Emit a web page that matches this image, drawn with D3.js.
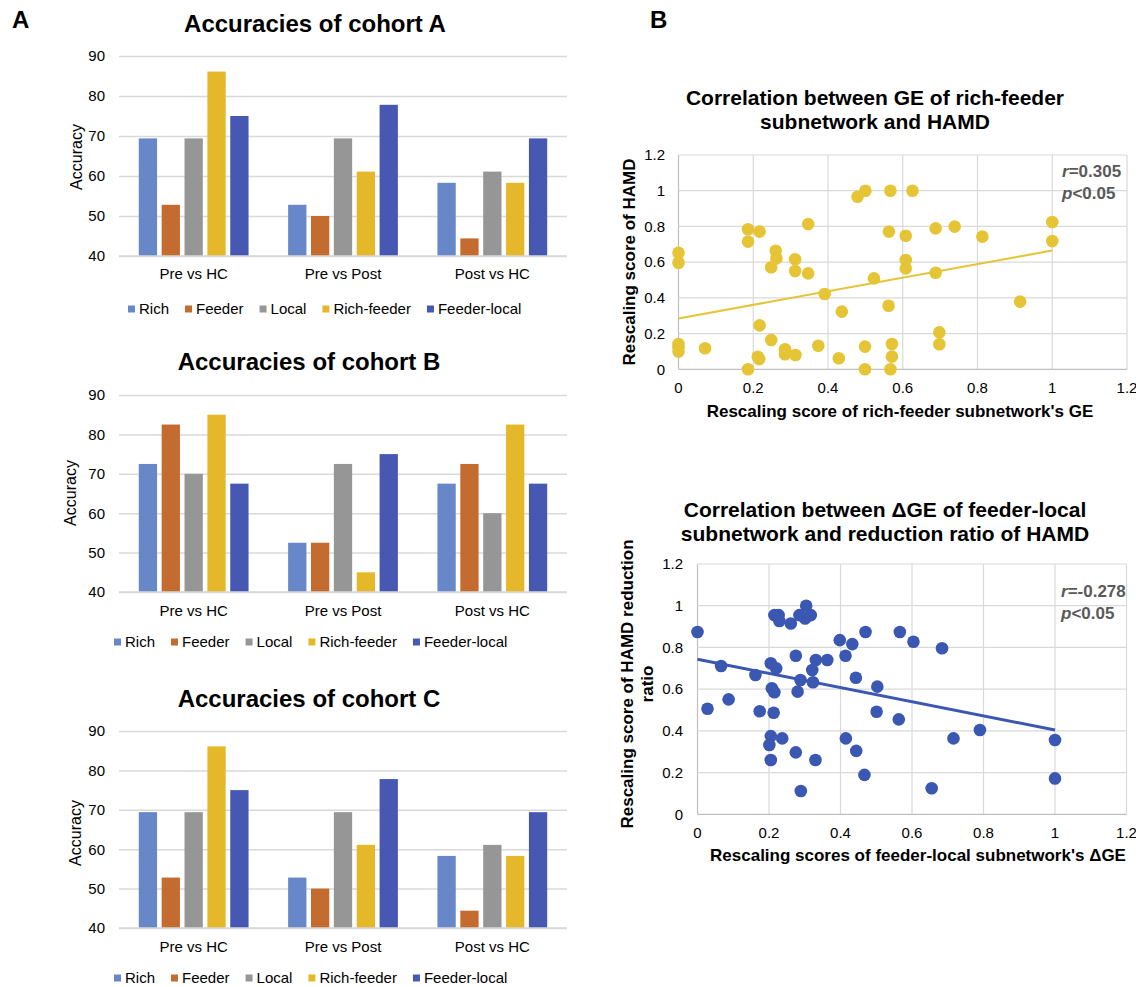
<!DOCTYPE html>
<html>
<head>
<meta charset="utf-8">
<script src="https://cdn.jsdelivr.net/npm/d3@7"></script>
<style>
  body { margin: 0; background: #fff; }
  svg { display: block; font-family: "Liberation Sans", Arial, sans-serif; }
</style>
</head>
<body>
<svg id="fig" width="1136" height="987"></svg>
<script>
// ---- data ----
const comparisons = ['Pre vs HC', 'Pre vs Post', 'Post vs HC'];
const subnetworks = ['Rich', 'Feeder', 'Local', 'Rich-feeder', 'Feeder-local'];
const subColors = ['#6887c8', '#c46c30', '#969696', '#e4b829', '#4758b3'];
const accTicks = [40, 50, 60, 70, 80, 90];

// rows = comparisons, columns = subnetworks
const cohortA = [
  [69.4, 52.8, 69.4, 86.1, 75.0],
  [52.8, 50.0, 69.4, 61.1, 77.8],
  [58.3, 44.4, 61.1, 58.3, 69.4]
];
const cohortB = [
  [72.5, 82.5, 70.0, 85.0, 67.5],
  [52.5, 52.5, 72.5, 45.0, 75.0],
  [67.5, 72.5, 60.0, 82.5, 67.5]
];
const cohortC = [
  [69.4, 52.8, 69.4, 86.1, 75.0],
  [52.8, 50.0, 69.4, 61.1, 77.8],
  [58.3, 44.4, 61.1, 58.3, 69.4]
];

const scatterTicks = [0, 0.2, 0.4, 0.6, 0.8, 1, 1.2];

// scatter 1: rich-feeder GE vs HAMD
const richFeederGE = [0, 0, 0, 0, 0, 0.071, 0.186, 0.186, 0.217, 0.186, 0.217, 0.212, 0.216, 0.248,
  0.26, 0.262, 0.248, 0.285, 0.285, 0.312, 0.312, 0.313, 0.347, 0.347, 0.374, 0.391, 0.437, 0.429,
  0.479, 0.5, 0.499, 0.499, 0.523, 0.567, 0.563, 0.562, 0.571, 0.571, 0.567, 0.626, 0.608, 0.608,
  0.608, 0.688, 0.688, 0.698, 0.698, 0.739, 0.813, 0.914, 1.0, 1.0];
const hamdScore = [0.653, 0.597, 0.142, 0.123, 0.099, 0.118, 0.784, 0.715, 0.771, 0, 0.246, 0.07, 0.058, 0.164,
  0.664, 0.621, 0.571, 0.112, 0.084, 0.616, 0.55, 0.08, 0.813, 0.537, 0.132, 0.422, 0.323, 0.062,
  0.966, 1.0, 0.127, 0, 0.509, 1.0, 0.771, 0.356, 0.142, 0.071, 0, 1.0, 0.748, 0.612,
  0.565, 0.789, 0.541, 0.207, 0.14, 0.799, 0.743, 0.379, 0.825, 0.718];
const trend1 = [[0, 0.285], [1, 0.665]];

// scatter 2: delta GE of feeder-local vs HAMD reduction ratio
const feederLocalDGE = [0, 0.028, 0.066, 0.087, 0.162, 0.174, 0.205, 0.22, 0.208, 0.215, 0.213, 0.205, 0.201,
  0.205, 0.237, 0.215, 0.227, 0.229, 0.261, 0.285, 0.304, 0.301, 0.317, 0.275, 0.288, 0.28, 0.275,
  0.289, 0.321, 0.331, 0.323, 0.33, 0.363, 0.398, 0.433, 0.414, 0.47, 0.443, 0.503, 0.501, 0.415,
  0.444, 0.467, 0.566, 0.604, 0.563, 0.684, 0.655, 0.716, 0.79, 1.0, 1.0];
const hamdReduction = [0.874, 0.506, 0.711, 0.551, 0.668, 0.494, 0.724, 0.7, 0.604, 0.585, 0.487, 0.375, 0.332,
  0.26, 0.364, 0.955, 0.955, 0.927, 0.915, 0.955, 1.0, 0.939, 0.955, 0.76, 0.644, 0.588, 0.297,
  0.112, 0.692, 0.74, 0.633, 0.26, 0.74, 0.835, 0.816, 0.76, 0.874, 0.655, 0.612, 0.492, 0.364,
  0.304, 0.189, 0.874, 0.827, 0.455, 0.796, 0.125, 0.364, 0.404, 0.356, 0.172];
const trend2 = [[0, 0.743], [1, 0.404]];

// ---- drawing ----
const svg = d3.select('#fig');

svg.append('text').attr('x', 12).attr('y', 28)
  .attr('font-size', 24).attr('font-weight', 'bold').text('A');
svg.append('text').attr('x', 650).attr('y', 28)
  .attr('font-size', 24).attr('font-weight', 'bold').text('B');

const barCharts = [
  { title: 'Accuracies of cohort A', values: cohortA, top: 56, bottom: 256, titleX: 315, titleY: 32,
    catY: 279, legendY: 309, legendX: 128, labX: 76, labY: 157 },
  { title: 'Accuracies of cohort B', values: cohortB, top: 395, bottom: 592, titleX: 309, titleY: 370,
    catY: 616, legendY: 642, legendX: 114, labX: 70, labY: 493 },
  { title: 'Accuracies of cohort C', values: cohortC, top: 731, bottom: 928, titleX: 309, titleY: 707,
    catY: 952, legendY: 978, legendX: 114, labX: 75, labY: 833 }
];

barCharts.forEach(c => drawBars(c));

function drawBars(c) {
  const left = 119, right = 567;
  const g = svg.append('g');

  const x0 = d3.scaleBand().domain(comparisons).range([left, right])
    .paddingInner(0.265).paddingOuter(0.1325);
  const x1 = d3.scaleBand().domain(subnetworks).range([0, x0.bandwidth()]).paddingInner(0.2);
  const y = d3.scaleLinear().domain([40, 90]).range([c.bottom, c.top]);

  const yAxis = g.append('g').attr('transform', `translate(${left},0)`)
    .call(d3.axisLeft(y).tickValues(accTicks).tickSize(-(right - left)).tickPadding(14));
  yAxis.select('.domain').remove();
  yAxis.selectAll('line').attr('stroke', '#d9d9d9').attr('stroke-width', 1.5);
  yAxis.selectAll('text').attr('font-size', 15).attr('fill', '#000')
    .attr('font-family', '"Liberation Sans", Arial, sans-serif');

  comparisons.forEach((cat, i) => {
    g.append('g').attr('transform', `translate(${x0(cat)},0)`)
      .selectAll('rect')
      .data(c.values[i])
      .join('rect')
      .attr('x', (d, j) => x1(subnetworks[j]))
      .attr('y', d => y(d))
      .attr('width', x1.bandwidth())
      .attr('height', d => y(40) - y(d))
      .attr('fill', (d, j) => subColors[j]);
  });

  // redraw baseline on top of bars
  g.append('line').attr('x1', left).attr('x2', right)
    .attr('y1', y(40)).attr('y2', y(40))
    .attr('stroke', '#d9d9d9').attr('stroke-width', 1.5);

  g.selectAll('.cat').data(comparisons).join('text')
    .attr('class', 'cat')
    .attr('x', d => x0(d) + x0.bandwidth() / 2)
    .attr('y', c.catY)
    .attr('text-anchor', 'middle')
    .attr('font-size', 15)
    .text(d => d);

  g.append('text').attr('x', c.titleX).attr('y', c.titleY)
    .attr('text-anchor', 'middle').attr('font-size', 24).attr('font-weight', 'bold')
    .text(c.title);

  g.append('text')
    .attr('transform', `translate(${c.labX},${c.labY}) rotate(-90)`)
    .attr('text-anchor', 'middle').attr('dy', '0.35em').attr('font-size', 16)
    .text('Accuracy');

  // legend
  let lx = c.legendX;
  subnetworks.forEach((s, j) => {
    g.append('rect').attr('x', lx).attr('y', c.legendY - 3.5)
      .attr('width', 7).attr('height', 7).attr('fill', subColors[j]);
    const t = g.append('text').attr('x', lx + 11).attr('y', c.legendY)
      .attr('dy', '0.35em').attr('font-size', 15).text(s);
    lx += 11 + t.node().getComputedTextLength() + 16;
  });
}

const scatters = [
  { xs: richFeederGE, ys: hamdScore, trend: trend1, color: '#e5c436', lineW: 2,
    x0: 678.5, x1: 1127, y0: 369.3, y1: 155, tickRight: 665, xTickY: 393,
    title: ['Correlation between GE of rich-feeder', 'subnetwork and HAMD'], titleX: 875, titleY: 105,
    xTitle: "Rescaling score of rich-feeder subnetwork's GE", xTitleX: 900, xTitleY: 417,
    yTitle: ['Rescaling score of HAMD'], yTitleX: 629, yTitleY: 262,
    r: '=0.305', statX: 1062, statY: 177 },
  { xs: feederLocalDGE, ys: hamdReduction, trend: trend2, color: '#3a57b2', lineW: 3,
    x0: 697.5, x1: 1126.5, y0: 814.3, y1: 564, tickRight: 683, xTickY: 838,
    title: ['Correlation between \u0394GE of feeder-local', 'subnetwork and reduction ratio of HAMD'],
    titleX: 885, titleY: 517,
    xTitle: "Rescaling scores of feeder-local subnetwork's \u0394GE", xTitleX: 918, xTitleY: 861,
    yTitle: ['Rescaling score of HAMD reduction', 'ratio'], yTitleX: 627, yTitleY: 684,
    r: '=-0.278', statX: 1061, statY: 597 }
];

scatters.forEach(s => drawScatter(s));

function drawScatter(s) {
  const g = svg.append('g');
  const x = d3.scaleLinear().domain([0, 1.2]).range([s.x0, s.x1]);
  const y = d3.scaleLinear().domain([0, 1.2]).range([s.y0, s.y1]);

  g.selectAll('.vg').data(scatterTicks).join('line')
    .attr('x1', d => x(d)).attr('x2', d => x(d))
    .attr('y1', s.y0).attr('y2', s.y1)
    .attr('stroke', d => d === 0 ? '#bfbfbf' : '#d9d9d9').attr('stroke-width', 1.2);
  g.selectAll('.hg').data(scatterTicks).join('line')
    .attr('x1', s.x0).attr('x2', s.x1)
    .attr('y1', d => y(d)).attr('y2', d => y(d))
    .attr('stroke', d => d === 0 ? '#bfbfbf' : '#d9d9d9').attr('stroke-width', 1.2);

  g.selectAll('.yt').data(scatterTicks).join('text')
    .attr('x', s.tickRight).attr('y', d => y(d)).attr('dy', '0.35em')
    .attr('text-anchor', 'end').attr('font-size', 15)
    .text(d => d3.format('~g')(d));
  g.selectAll('.xt').data(scatterTicks).join('text')
    .attr('x', d => x(d)).attr('y', s.xTickY)
    .attr('text-anchor', 'middle').attr('font-size', 15)
    .text(d => d3.format('~g')(d));

  g.append('line')
    .attr('x1', x(s.trend[0][0])).attr('y1', y(s.trend[0][1]))
    .attr('x2', x(s.trend[1][0])).attr('y2', y(s.trend[1][1]))
    .attr('stroke', s.color).attr('stroke-width', s.lineW);

  g.selectAll('circle').data(s.xs).join('circle')
    .attr('cx', d => x(d)).attr('cy', (d, i) => y(s.ys[i]))
    .attr('r', 6.3).attr('fill', s.color);

  s.title.forEach((t, i) => {
    g.append('text').attr('x', s.titleX).attr('y', s.titleY + i * 24)
      .attr('text-anchor', 'middle').attr('font-size', 21).attr('font-weight', 'bold').text(t);
  });

  g.append('text').attr('x', s.xTitleX).attr('y', s.xTitleY)
    .attr('text-anchor', 'middle').attr('font-size', 17).attr('font-weight', 'bold').text(s.xTitle);

  s.yTitle.forEach((t, i) => {
    const off = (i - (s.yTitle.length - 1) / 2) * 20;
    g.append('text')
      .attr('transform', `translate(${s.yTitleX + (s.yTitle.length - 1) * 10 + off},${s.yTitleY}) rotate(-90)`)
      .attr('text-anchor', 'middle').attr('dy', '0.35em')
      .attr('font-size', 17).attr('font-weight', 'bold').text(t);
  });

  const st = g.append('text').attr('x', s.statX).attr('y', s.statY)
    .attr('font-size', 17).attr('font-weight', 'bold').attr('fill', '#595959');
  st.append('tspan').attr('font-style', 'italic').text('r');
  st.append('tspan').text(s.r);
  const pt = g.append('text').attr('x', s.statX).attr('y', s.statY + 22)
    .attr('font-size', 17).attr('font-weight', 'bold').attr('fill', '#595959');
  pt.append('tspan').attr('font-style', 'italic').text('p');
  pt.append('tspan').text('<0.05');
}
</script>
</body>
</html>
